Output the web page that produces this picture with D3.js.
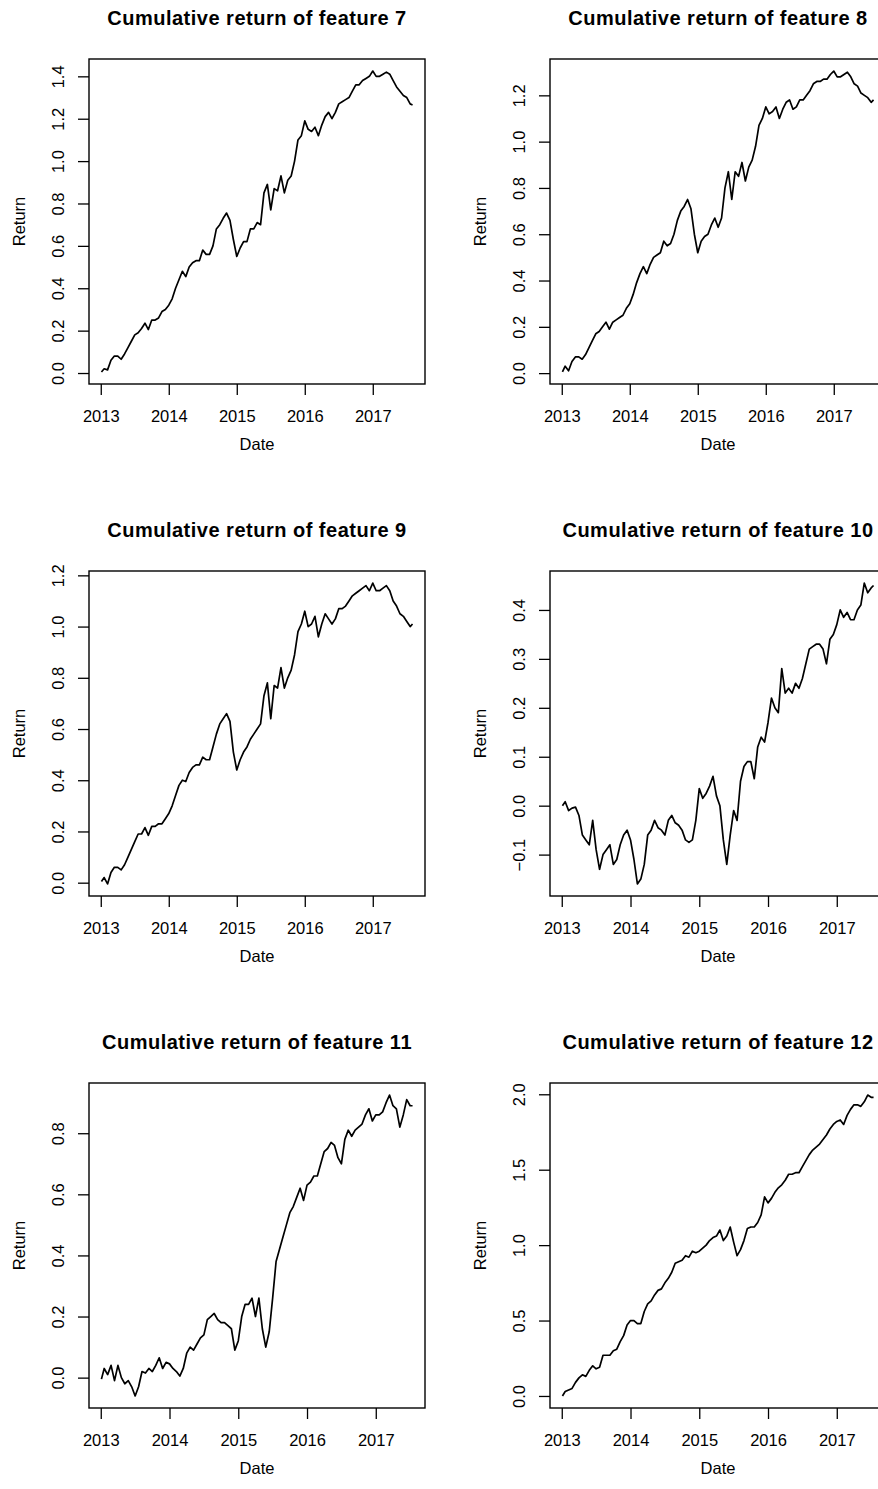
<!DOCTYPE html>
<html>
<head>
<meta charset="utf-8">
<script src="https://cdn.jsdelivr.net/npm/d3@7"></script>
<style>
  body { margin: 0; background: #fff; }
  svg text { font-family: "Liberation Sans", Arial, Helvetica, sans-serif; fill: #000; }
</style>
</head>
<body>
<svg id="chart" width="878" height="1489"></svg>
<script>

// dates as fractional years, roughly every 18 days
var dates = [
  2013.01, 2013.05, 2013.10, 2013.15, 2013.20, 2013.25, 2013.30, 2013.35, 2013.40, 2013.45,
  2013.50, 2013.55, 2013.60, 2013.65, 2013.70, 2013.75, 2013.80, 2013.85, 2013.90, 2013.95,
  2014.00, 2014.05, 2014.10, 2014.15, 2014.20, 2014.25, 2014.30, 2014.35, 2014.40, 2014.45,
  2014.50, 2014.55, 2014.60, 2014.65, 2014.70, 2014.75, 2014.80, 2014.85, 2014.90, 2014.95,
  2015.00, 2015.05, 2015.10, 2015.15, 2015.20, 2015.25, 2015.30, 2015.35, 2015.40, 2015.45,
  2015.50, 2015.55, 2015.60, 2015.65, 2015.70, 2015.75, 2015.80, 2015.85, 2015.90, 2015.95,
  2016.00, 2016.05, 2016.10, 2016.15, 2016.20, 2016.25, 2016.30, 2016.35, 2016.40, 2016.45,
  2016.50, 2016.55, 2016.60, 2016.65, 2016.70, 2016.75, 2016.80, 2016.85, 2016.90, 2016.95,
  2017.00, 2017.05, 2017.10, 2017.15, 2017.20, 2017.25, 2017.30, 2017.35, 2017.40, 2017.45,
  2017.50
];
var datesLong = dates.concat([2017.55, 2017.585]);   // features 7-9
var datesShort = dates.concat([2017.535]);           // features 10-12

var yearTicks = [2013, 2014, 2015, 2016, 2017];

var feature7 = [
  0.005, 0.02, 0.015, 0.06, 0.08, 0.08, 0.065, 0.09, 0.12, 0.15,
  0.18, 0.19, 0.21, 0.235, 0.205, 0.25, 0.25, 0.26, 0.29, 0.30,
  0.32, 0.35, 0.40, 0.44, 0.48, 0.455, 0.50, 0.52, 0.53, 0.53,
  0.58, 0.56, 0.56, 0.60, 0.68, 0.70, 0.73, 0.755, 0.72, 0.63,
  0.55, 0.59, 0.62, 0.62, 0.68, 0.68, 0.71, 0.70, 0.85, 0.89,
  0.77, 0.87, 0.86, 0.93, 0.85, 0.91, 0.93, 1.00, 1.10, 1.12,
  1.19, 1.15, 1.14, 1.16, 1.12, 1.17, 1.21, 1.23, 1.20, 1.23,
  1.27, 1.28, 1.29, 1.30, 1.33, 1.36, 1.36, 1.38, 1.39, 1.40,
  1.425, 1.40, 1.40, 1.41, 1.42, 1.41, 1.38, 1.35, 1.33, 1.31,
  1.30, 1.27, 1.265
];
var feature8 = [
  0.005, 0.03, 0.01, 0.05, 0.07, 0.07, 0.06, 0.08, 0.11, 0.14,
  0.17, 0.18, 0.20, 0.22, 0.19, 0.22, 0.23, 0.24, 0.25, 0.28,
  0.30, 0.34, 0.39, 0.43, 0.46, 0.43, 0.47, 0.50, 0.51, 0.52,
  0.57, 0.55, 0.56, 0.60, 0.66, 0.70, 0.72, 0.75, 0.71, 0.60,
  0.52, 0.57, 0.59, 0.60, 0.64, 0.67, 0.63, 0.67, 0.80, 0.87,
  0.75, 0.87, 0.85, 0.91, 0.83, 0.89, 0.92, 0.98, 1.07, 1.10,
  1.15, 1.12, 1.13, 1.15, 1.10, 1.14, 1.17, 1.18, 1.14, 1.15,
  1.18, 1.18, 1.20, 1.22, 1.25, 1.26, 1.26, 1.27, 1.27, 1.29,
  1.305, 1.28, 1.28, 1.29, 1.30, 1.28, 1.25, 1.24, 1.21, 1.20,
  1.19, 1.17, 1.18
];
var feature9 = [
  0.005, 0.02, -0.005, 0.04, 0.06, 0.06, 0.05, 0.07, 0.10, 0.13,
  0.16, 0.19, 0.19, 0.215, 0.185, 0.22, 0.22, 0.23, 0.23, 0.25,
  0.27, 0.30, 0.34, 0.38, 0.40, 0.395, 0.43, 0.45, 0.46, 0.46,
  0.49, 0.48, 0.48, 0.53, 0.58, 0.62, 0.64, 0.66, 0.63, 0.51,
  0.44, 0.48, 0.51, 0.53, 0.56, 0.58, 0.60, 0.62, 0.73, 0.78,
  0.64, 0.77, 0.76, 0.84, 0.76, 0.80, 0.83, 0.89, 0.98, 1.01,
  1.06, 1.00, 1.01, 1.04, 0.96, 1.01, 1.05, 1.03, 1.01, 1.03,
  1.07, 1.07, 1.08, 1.10, 1.12, 1.13, 1.14, 1.15, 1.16, 1.14,
  1.17, 1.14, 1.14, 1.15, 1.16, 1.14, 1.10, 1.08, 1.05, 1.04,
  1.02, 1.00, 1.01
];
var feature10 = [
  0.00, 0.008, -0.01, -0.005, -0.003, -0.02, -0.06, -0.07, -0.08, -0.03,
  -0.09, -0.13, -0.10, -0.09, -0.08, -0.12, -0.11, -0.08, -0.06, -0.05,
  -0.07, -0.11, -0.16, -0.15, -0.12, -0.06, -0.05, -0.03, -0.045, -0.05,
  -0.06, -0.03, -0.02, -0.035, -0.04, -0.05, -0.07, -0.075, -0.07, -0.03,
  0.035, 0.015, 0.025, 0.04, 0.06, 0.02, 0.00, -0.07, -0.12, -0.06,
  -0.01, -0.03, 0.05, 0.08, 0.09, 0.09, 0.055, 0.12, 0.14, 0.13,
  0.17, 0.22, 0.20, 0.19, 0.28, 0.23, 0.24, 0.23, 0.25, 0.24,
  0.26, 0.29, 0.32, 0.325, 0.33, 0.33, 0.32, 0.29, 0.34, 0.35,
  0.37, 0.40, 0.385, 0.395, 0.38, 0.38, 0.40, 0.41, 0.455, 0.435,
  0.445, 0.45
];
var feature11 = [
  -0.005, 0.03, 0.01, 0.04, -0.01, 0.04, 0.00, -0.02, -0.01, -0.03,
  -0.06, -0.03, 0.02, 0.015, 0.03, 0.02, 0.04, 0.065, 0.03, 0.05,
  0.045, 0.03, 0.02, 0.005, 0.03, 0.08, 0.10, 0.09, 0.11, 0.13,
  0.14, 0.19, 0.20, 0.21, 0.19, 0.18, 0.18, 0.17, 0.16, 0.09,
  0.12, 0.20, 0.24, 0.24, 0.26, 0.20, 0.26, 0.16, 0.10, 0.15,
  0.26, 0.38, 0.42, 0.46, 0.50, 0.54, 0.56, 0.59, 0.62, 0.58,
  0.63, 0.64, 0.66, 0.66, 0.70, 0.74, 0.75, 0.77, 0.76, 0.72,
  0.70, 0.78, 0.81, 0.79, 0.81, 0.82, 0.83, 0.86, 0.88, 0.84,
  0.86, 0.86, 0.87, 0.90, 0.925, 0.89, 0.88, 0.82, 0.86, 0.91,
  0.89, 0.89
];
var feature12 = [
  0.00, 0.03, 0.04, 0.05, 0.09, 0.12, 0.14, 0.13, 0.17, 0.20,
  0.18, 0.19, 0.27, 0.27, 0.27, 0.30, 0.31, 0.36, 0.40, 0.47,
  0.50, 0.50, 0.48, 0.48, 0.56, 0.61, 0.63, 0.67, 0.70, 0.71,
  0.75, 0.78, 0.82, 0.88, 0.89, 0.90, 0.93, 0.92, 0.96, 0.95,
  0.96, 0.98, 1.00, 1.03, 1.05, 1.06, 1.10, 1.03, 1.06, 1.12,
  1.02, 0.93, 0.97, 1.03, 1.11, 1.12, 1.12, 1.15, 1.20, 1.32,
  1.28, 1.31, 1.35, 1.38, 1.40, 1.43, 1.47, 1.47, 1.48, 1.48,
  1.52, 1.56, 1.60, 1.63, 1.65, 1.67, 1.70, 1.73, 1.77, 1.80,
  1.82, 1.83, 1.80, 1.86, 1.90, 1.93, 1.93, 1.92, 1.95, 1.995,
  1.98, 1.98
];

var ticks7 = [0, 0.2, 0.4, 0.6, 0.8, 1.0, 1.2, 1.4];
var ticks8 = [0, 0.2, 0.4, 0.6, 0.8, 1.0, 1.2];
var ticks9 = [0, 0.2, 0.4, 0.6, 0.8, 1.0, 1.2];
var ticks10 = [-0.1, 0, 0.1, 0.2, 0.3, 0.4];
var ticks11 = [0, 0.2, 0.4, 0.6, 0.8];
var ticks12 = [0, 0.5, 1.0, 1.5, 2.0];

var panels = [
  {feature: 7, dates: datesLong, values: feature7, ticks: ticks7},
  {feature: 8, dates: datesLong, values: feature8, ticks: ticks8},
  {feature: 9, dates: datesLong, values: feature9, ticks: ticks9},
  {feature: 10, dates: datesShort, values: feature10, ticks: ticks10},
  {feature: 11, dates: datesShort, values: feature11, ticks: ticks11},
  {feature: 12, dates: datesShort, values: feature12, ticks: ticks12}
];

var svg = d3.select("#chart");
var panelW = 461, panelH = 512;
var left = 89, top0 = 59;
var boxW = 336, boxH = 325;

// R style range: data extent plus 4% either side
function padded(ext) {
  var p = (ext[1] - ext[0]) * 0.04;
  return [ext[0] - p, ext[1] + p];
}

panels.forEach(function(p, i) {
  var col = i % 2, row = Math.floor(i / 2);
  var g = svg.append("g")
    .attr("transform", "translate(" + (left + col * panelW) + "," + (top0 + row * panelH) + ")");

  var data = p.dates.map(function(d, j) { return {date: d, value: p.values[j]}; });

  var x = d3.scaleLinear().domain(padded(d3.extent(p.dates))).range([0, boxW]);
  var y = d3.scaleLinear().domain(padded(d3.extent(p.values))).range([boxH, 0]);

  var xAxis = g.append("g")
    .attr("transform", "translate(0," + boxH + ")")
    .call(d3.axisBottom(x).tickValues(yearTicks).tickFormat(d3.format("d")).tickSize(11).tickPadding(15));
  xAxis.select(".domain").remove();
  xAxis.selectAll("line").attr("stroke-width", 1.3);
  xAxis.selectAll("text").style("font-size", "16.5px");

  var yAxis = g.append("g")
    .call(d3.axisLeft(y).tickValues(p.ticks).tickFormat(d3.format(".1f")).tickSize(11));
  yAxis.select(".domain").remove();
  yAxis.selectAll("line").attr("stroke-width", 1.3);
  yAxis.selectAll("text")
    .attr("x", null).attr("dy", null)
    .attr("text-anchor", "middle")
    .attr("transform", "translate(-25.5,0) rotate(-90)")
    .style("font-size", "16.5px");

  g.append("path")
    .datum(data)
    .attr("fill", "none")
    .attr("stroke", "#000")
    .attr("stroke-width", 1.7)
    .attr("stroke-linejoin", "round")
    .attr("d", d3.line().x(function(d) { return x(d.date); }).y(function(d) { return y(d.value); }));

  g.append("rect")
    .attr("width", boxW).attr("height", boxH)
    .attr("fill", "none").attr("stroke", "#000").attr("stroke-width", 1.4);

  g.append("text")
    .attr("x", boxW / 2).attr("y", -34)
    .attr("text-anchor", "middle")
    .style("font-size", "20px").style("font-weight", "bold").style("letter-spacing", "0.5px")
    .text("Cumulative return of feature " + p.feature);

  g.append("text")
    .attr("x", boxW / 2).attr("y", boxH + 66)
    .attr("text-anchor", "middle")
    .style("font-size", "16.5px")
    .text("Date");

  g.append("text")
    .attr("transform", "translate(-64," + (boxH / 2) + ") rotate(-90)")
    .attr("text-anchor", "middle")
    .style("font-size", "16.5px")
    .text("Return");
});

</script>
</body>
</html>
